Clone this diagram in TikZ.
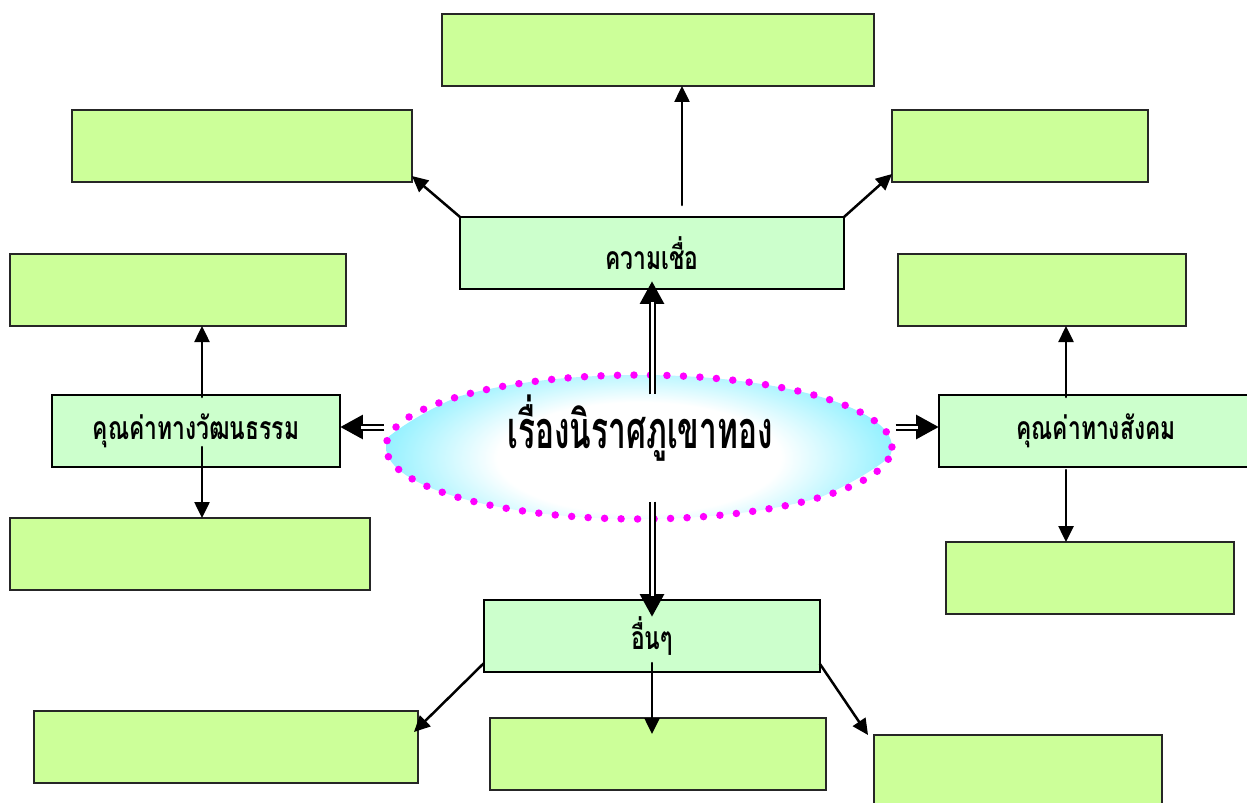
\documentclass[tikz,border=0pt]{standalone}
\usepackage{fontspec}
\newfontfamily\thaifont[Script=Thai]{Loma}
\usepackage{tikz}
\usetikzlibrary{arrows.meta}
\usetikzlibrary{shapes.geometric}
\definecolor{mintbox}{RGB}{204,255,204}
\definecolor{limebox}{RGB}{204,255,153}
\definecolor{eggcyan}{RGB}{110,236,255}
\definecolor{dotpink}{RGB}{255,0,255}
\pgfdeclareradialshading{eggfill}{\pgfpoint{0bp}{0bp}}{color(0bp)=(white); color(12bp)=(white); color(25bp)=(eggcyan); color(50bp)=(eggcyan)}
\newcommand{\tallthai}[2]{\scalebox{1}[#1]{#2}}
\tikzset{>=Triangle,
  topic/.style={draw=black,line width=0.04cm,fill=mintbox,minimum height=1.44cm,
    inner sep=0pt,outer sep=0pt,font=\thaifont\bfseries\fontsize{13}{15}\selectfont},
  leaf/.style={draw=black!85,line width=0.04cm,fill=limebox,minimum height=1.44cm,
    inner sep=0pt,outer sep=0pt},
  arr/.style={line width=0.05cm,-{Triangle[length=0.32cm,width=0.3cm]}},
  dbl/.style={line width=0.14cm,line cap=butt,-{Triangle[length=0.46cm,width=0.46cm]},
    postaction={draw=white,line width=0.06cm,-,shorten >=0.42cm}}}

\begin{document}
\begin{tikzpicture}[x=0.02cm,y=-0.02cm,line cap=round]

  \useasboundingbox (0,0) rectangle (1247,802);

  % boxes
  \node [leaf,minimum width=8.64cm] (top) at (658,50) {};
  \node [leaf,minimum width=6.8cm] (topleft) at (242,146) {};
  \node [leaf,minimum width=5.12cm] (topright) at (1020,146) {};
  \node [topic,minimum width=7.68cm] (belief) at (652,253) {\tallthai{1.4}{ความเชื่อ}};

  \node [leaf,minimum width=6.72cm] (culup) at (178,290) {};
  \node [topic,minimum width=5.76cm] (culture) at (196,431) {\tallthai{1.4}{คุณค่าทางวัฒนธรรม}};
  \node [leaf,minimum width=7.2cm] (culdown) at (190,554) {};

  \node [leaf,minimum width=5.76cm] (socup) at (1042,290) {};
  \node [topic,minimum width=6.28cm] (social) at (1096,431) {\tallthai{1.4}{คุณค่าทางสังคม}};
  \node [leaf,minimum width=5.76cm] (socdown) at (1090,578) {};

  \node [topic,minimum width=6.72cm] (others) at (652,636) {\tallthai{1.4}{อื่นๆ}};
  \node [leaf,minimum width=7.68cm] (otherleft) at (226,747) {};
  \node [leaf,minimum width=6.72cm] (othermid) at (658,754) {};
  \node [leaf,minimum width=5.76cm] (otherright) at (1018,771) {};

  % centre
  \begin{scope}
    \clip (639,447) ellipse [x radius=253,y radius=72];
    \shade [shading=eggfill,rotate around={10:(639,447)}]
      (639,447) ellipse [x radius=290,y radius=100];
  \end{scope}
  \node [ellipse,draw=dotpink,line width=0.15cm,dash pattern=on 0pt off 0.33cm,
    minimum width=10.12cm,minimum height=2.88cm,inner sep=0pt] (story) at (639,447) {};
  \node [font=\thaifont\bfseries\fontsize{18}{20}\selectfont] (title) at (640,428)
    {\tallthai{1.65}{เรื่องนิราศภูเขาทอง}};

  \draw [dbl] ([shift={(13,23)}]story.north) -- ([shift={(0,-8)}]belief.south);
  \draw [dbl] ([shift={(13,-21)}]story.south) -- ([shift={(0,17)}]others.north);
  \draw [dbl] ([shift={(2,-20)}]story.west) -- ([shift={(0,-4)}]culture.east);
  \draw [dbl] ([shift={(0,-20)}]story.east) -- ([shift={(0,-4)}]social.west);

  \draw [arr] ([shift={(30,-12)}]belief.north) -- ([shift={(24,0)}]top.south);
  \draw [arr] (belief.north west) -- ([shift={(0,-6)}]topleft.south east);
  \draw [arr] (belief.north east) -- ([shift={(0,-8)}]topright.south west);

  \draw [arr] ([shift={(6,2)}]culture.north) -- ([shift={(24,0)}]culup.south);
  \draw [arr] ([shift={(6,-20)}]culture.south) -- ([shift={(12,0)}]culdown.north);

  \draw [arr] ([shift={(-30,2)}]social.north) -- ([shift={(24,0)}]socup.south);
  \draw [arr] ([shift={(-30,3)}]social.south) -- ([shift={(-24,0)}]socdown.north);

  \draw [arr] ([shift={(0,-9)}]others.south west) -- ([shift={(-4,21)}]otherleft.north east);
  \draw [arr] ([shift={(0,-9)}]others.south) -- ([shift={(-6,16)}]othermid.north);
  \draw [arr] ([shift={(0,-8)}]others.south east) -- ([shift={(-6,0)}]otherright.north west);

\end{tikzpicture}
\end{document}
